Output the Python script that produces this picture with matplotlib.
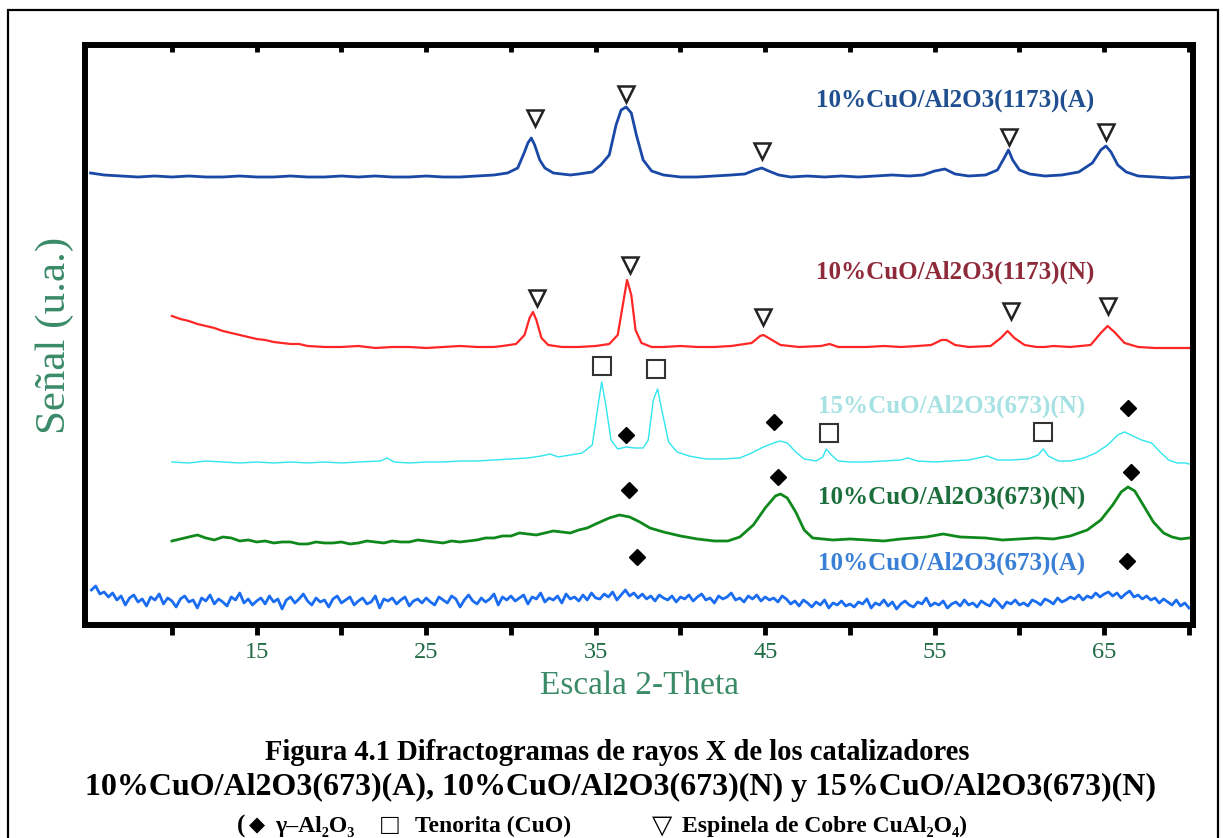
import numpy as np
import matplotlib
matplotlib.use("Agg")
import matplotlib.pyplot as plt
from matplotlib.patches import Rectangle
from matplotlib.ticker import FixedLocator

SERIF = ["Liberation Serif", "DejaVu Serif"]
plt.rcParams["font.family"] = SERIF

# --- diffractograms: 2-theta (deg) and signal above each trace's baseline (u.a.)
tt_a1173 = [5.2, 6, 7, 8, 9, 10, 11, 12, 13, 14, 15, 16, 17, 18, 19, 20, 21, 22, 23, 24,
            25, 26, 27, 28, 29, 29.8, 30.4, 30.8, 31.0, 31.2, 31.4, 31.7, 32.0, 32.5, 33,
            33.5, 34, 34.8, 35.3, 35.8, 36.2, 36.5, 36.8, 37.1, 37.4, 37.8, 38.3, 39, 40,
            41, 42, 43, 43.8, 44.4, 44.8, 45.2, 45.8, 46.5, 47.5, 48.5, 49.5, 50.5, 51.5,
            52.5, 53.5, 54.3, 55, 55.6, 56.2, 57, 58, 58.7, 59.1, 59.35, 59.6, 60, 60.6,
            61.5, 62.5, 63.5, 64.3, 64.8, 65.1, 65.4, 65.8, 66.3, 67, 68, 69, 70]
sig_a1173 = [4, 2, 1, 0, 1, 0, 1, 0, 0, 1, 0, 0, 1, 0, 0, 1, 0, 1, 0, 0,
             1, 0, 0, 1, 2, 4, 9, 25, 34, 39, 32, 17, 9, 4, 3,
             2, 3, 5, 12, 22, 52, 67, 70, 64, 42, 17, 6, 2, 0,
             0, 1, 2, 3, 7, 9, 6, 2, 0, 1, 0, 1, 0, 1,
             2, 1, 2, 6, 8, 3, 1, 2, 7, 19, 27, 17, 7, 3,
             1, 2, 5, 14, 27, 31, 25, 12, 5, 1, 0, -1, 0]

tt_n1173 = [10, 10.5, 11, 11.5, 12, 12.5, 13, 13.5, 14, 14.5, 15, 15.5, 16, 16.5, 17,
            17.5, 18, 19, 20, 21, 22, 23, 24, 25, 26, 27, 28, 29, 29.5, 30.3, 30.8, 31.1,
            31.3, 31.5, 31.8, 32.2, 33, 34, 35, 35.8, 36.3, 36.6, 36.85, 37.1, 37.35,
            37.7, 38.3, 39, 40, 41, 42, 43, 44.2, 44.7, 44.9, 45.3, 45.9, 47, 48.3, 48.8,
            49.3, 50, 51, 52, 53, 54, 54.8, 55.4, 55.7, 56.2, 57, 58.3, 58.9, 59.3, 59.7,
            60.3, 61, 61.5, 62, 63, 64.2, 64.8, 65.2, 65.6, 66.2, 67, 68, 69, 70]
sig_n1173 = [31, 28, 26, 23, 21, 19, 16, 14, 12, 10, 8, 7, 5, 4, 3,
             3, 1, 0, 0, 1, -1, 0, 0, -1, 0, 1, 0, 0, 1, 3, 12, 29,
             35, 27, 9, 2, 0, 0, 1, 3, 12, 42, 67, 52, 17,
             4, 0, 0, 1, 0, 0, 1, 4, 11, 12, 8, 2, 0, 1, 3,
             0, 0, 0, 1, 0, 1, 2, 7, 7, 2, 0, 1, 9, 16, 9,
             2, 0, 0, 1, 0, 2, 14, 21, 15, 4, 0, -1, -1, -1]

tt_n673_15 = [10, 11, 12, 13, 14, 15, 16, 17, 18, 19, 20, 21, 22.3, 22.7, 23.1, 24, 25,
              26, 27, 28, 29, 30, 31, 31.8, 32.3, 32.8, 33.5, 34.2, 34.8, 35.1, 35.35,
              35.6, 35.9, 36.3, 36.8, 37.3, 37.8, 38.1, 38.4, 38.65, 38.9, 39.3, 39.8,
              40.5, 41.5, 42.5, 43.5, 44.2, 44.9, 45.5, 45.9, 46.3, 46.8, 47.3, 48.0,
              48.4, 48.6, 48.9, 49.3, 50, 51, 52, 53, 53.4, 54, 55, 56, 57, 58.1, 58.7,
              59.5, 60.5, 61.1, 61.4, 61.7, 62.3, 63, 63.8, 64.5, 65.2, 65.8, 66.2, 66.7,
              67.2, 67.8, 68.3, 68.8, 69.3, 69.8, 70]
sig_n673_15 = [0, -1, 1, 0, -1, 0, -1, 0, -1, 0, -1, 0, 1, 4, 0, -1, 0,
               0, 1, 1, 2, 3, 4, 6, 8, 5, 7, 9, 17, 52, 80,
               57, 22, 13, 15, 14, 14, 22, 62, 73, 52, 20, 10,
               6, 3, 3, 4, 9, 15, 19, 21, 19, 10, 3, 1,
               5, 13, 7, 1, 0, 0, 1, 2, 4, 1, 0, 1, 2, 6, 2,
               2, 3, 7, 13, 6, 1, 1, 4, 9, 17, 27, 30, 26,
               22, 19, 10, 2, -1, -1, -2]

tt_n673_10 = [10, 10.5, 11, 11.5, 12, 12.5, 13, 13.5, 14, 14.5, 15, 15.5, 16, 16.5, 17,
              17.5, 18, 18.5, 19, 19.5, 20, 20.5, 21, 21.5, 22, 22.5, 23, 23.5, 24, 24.5,
              25, 25.5, 26, 26.5, 27, 27.5, 28, 28.5, 29, 29.5, 30, 30.5, 31, 31.5, 32,
              32.5, 33, 33.5, 34, 34.5, 35, 35.8, 36.4, 37.0, 37.6, 38.2, 39, 40, 41, 42,
              42.8, 43.5, 44.3, 45.0, 45.6, 45.9, 46.3, 46.8, 47.3, 47.8, 49, 50, 51, 52,
              53, 54.5, 55.5, 56.5, 58, 59, 60, 61, 62, 63, 64, 64.8, 65.5, 66.0, 66.4,
              66.8, 67.3, 67.9, 68.5, 69, 69.5, 70]
sig_n673_10 = [0, 2, 4, 6, 3, 1, 4, 3, 0, 1, -1, 0, -2, -1, -1,
               -3, -3, -1, -2, -2, -1, -3, -2, 0, -1, -2, 0, -1, -1, 1,
               0, -1, -2, 0, -1, 0, 1, 3, 3, 5, 5, 8, 7, 6, 8,
               10, 9, 8, 11, 13, 17, 23, 26, 24, 19, 13, 9, 5, 2, 0,
               0, 4, 16, 33, 45, 47, 43, 29, 11, 3, 1, 2, 1, 0,
               2, 4, 7, 4, 3, 1, 2, 3, 2, 5, 11, 21, 36, 49, 54,
               50, 36, 19, 8, 4, 2, 3]

# noisy scan, 0.25 deg step from 5.25 to 70.0
tt_a673 = np.arange(5.25, 70.01, 0.25)
sig_a673 = [12, 16, 8, 10, 5, 9, 2, 6, -3, 4, 7, 0, 3, -4, 5, 2, 8, -2, 4, 1,
            -5, 3, 6, 0, 2, -6, 4, 1, 7, -2, 3, 0, -4, 5, 2, 9, -1, 3, -3, 1,
            4, -2, 6, 0, 3, -7, 2, 5, -1, 3, 8, 1, -3, 4, 0, 2, -5, 3, 6, -1,
            2, 5, -3, 1, 4, -2, 0, 6, -6, 3, 1, 4, -2, 2, 5, -4, 1, 3, -1, 4,
            0, -3, 5, 2, -1, 6, 3, -5, 2, 7, 1, -2, 4, 0, 3, 8, -3, 5, 2, 6,
            1, 4, 7, -2, 5, 3, 9, 0, 4, 2, 6, -1, 8, 3, 5, 1, 7, 2, 9, 4,
            3, 8, 5, 10, 2, 7, 12, 6, 9, 4, 8, 3, 6, 1, 7, 4, 2, 6, 0, 5,
            3, 7, 1, 5, 8, 2, 4, -1, 6, 3, 5, 9, 2, 4, 0, 6, 3, 7, 1, 5,
            2, 4, 0, 6, 3, -2, 1, -4, 2, -1, -5, 0, -3, 2, -6, -1, -3, 1, -4, -2,
            -5, 0, -2, 3, -6, -1, -3, 2, -4, 0, -7, -2, 1, -3, -5, 0, -2, 4, -4, -1,
            -3, 1, -6, -2, 0, -4, 2, -3, -1, -5, 1, -2, -4, 3, -1, -6, 0, -2, 2, -3,
            -1, -4, 2, 0, -3, 3, 1, -2, 4, 0, 2, 5, 3, 7, 2, 6, 4, 9, 5, 8,
            10, 6, 9, 4, 8, 11, 5, 7, 3, 6, 2, 4, -1, 3, 0, -3, 2, -4, -1, -6]

# vertical stacking of the traces
offsets = {"a1173": 451, "n1173": 281, "n673_15": 166, "n673_10": 87, "a673": 26}

series_names = ["10%CuO/Al2O3(1173)(A)", "10%CuO/Al2O3(1173)(N)",
                "15%CuO/Al2O3(673)(N)", "10%CuO/Al2O3(673)(N)",
                "10%CuO/Al2O3(673)(A)"]
label_xy = [(56.2, 528), (56.2, 356), (56.0, 222), (56.0, 131), (56.0, 65)]
label_colors = ["#1f4f8f", "#8e2a3a", "#a6e1e3", "#1c6e3c", "#3a7fd6"]

# phase markers: (2-theta, level)
spinel_tt = [31.42, 36.78, 44.81, 59.38, 65.10, 31.53, 37.02, 44.87, 59.50, 65.22]
spinel_y = [510, 534, 477, 491, 496, 330, 363, 311, 317, 322]
tenorite_tt = [35.37, 38.56, 48.76, 61.39]
tenorite_y = [262, 259, 195, 196]
alumina_tt = [36.78, 45.52, 66.40, 36.96, 45.75, 66.58, 37.43, 66.34]
alumina_y = [193, 206, 220, 138, 151, 156, 71, 67]

labelled_ticks = [15, 25, 35, 45, 55, 65]
plain_ticks = [10, 20, 30, 40, 50, 60, 70]

fig = plt.figure(figsize=(12.23, 8.38), dpi=100)
fig.patch.set_facecolor("white")
fig.patches.append(Rectangle((8 / 1223, -0.05), 1210 / 1223, 1 - 10 / 838 + 0.05,
                             transform=fig.transFigure, fill=False,
                             edgecolor="black", linewidth=1.6))

ax = fig.add_axes([0.0699, 0.2542, 0.9056, 0.6921])

ax.plot(tt_a1173, np.array(sig_a1173) + offsets["a1173"], color="#1a48a6", lw=2.0)
ax.plot(tt_n1173, np.array(sig_n1173) + offsets["n1173"], color="#ff2626", lw=1.6)
ax.plot(tt_n673_15, np.array(sig_n673_15) + offsets["n673_15"], color="#30e6ee", lw=1.0)
ax.plot(tt_n673_10, np.array(sig_n673_10) + offsets["n673_10"], color="#10891c", lw=2.0)
ax.plot(tt_a673, np.array(sig_a673) + offsets["a673"], color="#1a6cf0", lw=2.0)

ax.plot(spinel_tt, spinel_y, linestyle="none", marker="v", markersize=12,
        markerfacecolor="white", markeredgecolor="#222222", markeredgewidth=1.8)
ax.plot(tenorite_tt, tenorite_y, linestyle="none", marker="s", markersize=13,
        markerfacecolor="white", markeredgecolor="#333333", markeredgewidth=1.5)
ax.plot(alumina_tt, alumina_y, linestyle="none", marker="D", markersize=8,
        color="black")

for name, (x, y), c in zip(series_names, label_xy, label_colors):
    ax.text(x, y, name, color=c, fontsize=18, fontweight="bold",
            ha="center", va="center", family=SERIF)

ax.set_xlim(4.90, 70.24)
ax.set_ylim(3, 583)

for side in ["left", "right", "top", "bottom"]:
    ax.spines[side].set_linewidth(4.3)
ax.set_yticks([])

ax.xaxis.set_major_locator(FixedLocator(labelled_ticks))
ax.xaxis.set_minor_locator(FixedLocator(plain_ticks))
ax.tick_params(axis="x", which="both", direction="out", length=7, width=3.5,
               colors="black", labelcolor="#1f6b45", labelsize=17.5, pad=5)
top = ax.secondary_xaxis("top")
top.xaxis.set_major_locator(FixedLocator(labelled_ticks))
top.xaxis.set_minor_locator(FixedLocator(plain_ticks))
top.tick_params(axis="x", which="both", direction="in", length=5, width=3.5,
                labeltop=False)
top.spines["top"].set_visible(False)

ax.set_xlabel("Escala 2-Theta", color="#3a8a68", fontsize=24, labelpad=6)
ax.set_ylabel("Señal (u.a.)", color="#3a8a68", fontsize=31, labelpad=8)

fig.text(0.505, 0.1026, "Figura 4.1 Difractogramas de rayos X de los catalizadores",
         ha="center", va="center", fontsize=20.6, fontweight="bold", family=SERIF)
fig.text(0.507, 0.0609,
         "10%CuO/Al2O3(673)(A), 10%CuO/Al2O3(673)(N) y 15%CuO/Al2O3(673)(N)",
         ha="center", va="center", fontsize=23, fontweight="bold", family=SERIF)

# key line for the phase symbols
key_y = 0.0143
key_parts = [
    (237, "(", 18, "left"),
    (257, "\u25c6", 15, "center"),
    (275, "\u03b3\u2013Al\u2082O\u2083", 17, "left"),
    (390, "\u25a1", 21, "center"),
    (415, "Tenorita (CuO)", 17, "left"),
    (662, "\u25bd", 19, "center"),
    (682, "Espinela de Cobre CuAl\u2082O\u2084)", 17, "left"),
]
for px, txt, size, ha in key_parts:
    fig.text(px / 1223, key_y, txt, ha=ha, va="center", fontsize=size,
             fontweight="bold", family=SERIF)

fig.savefig("out.png", dpi=100)
